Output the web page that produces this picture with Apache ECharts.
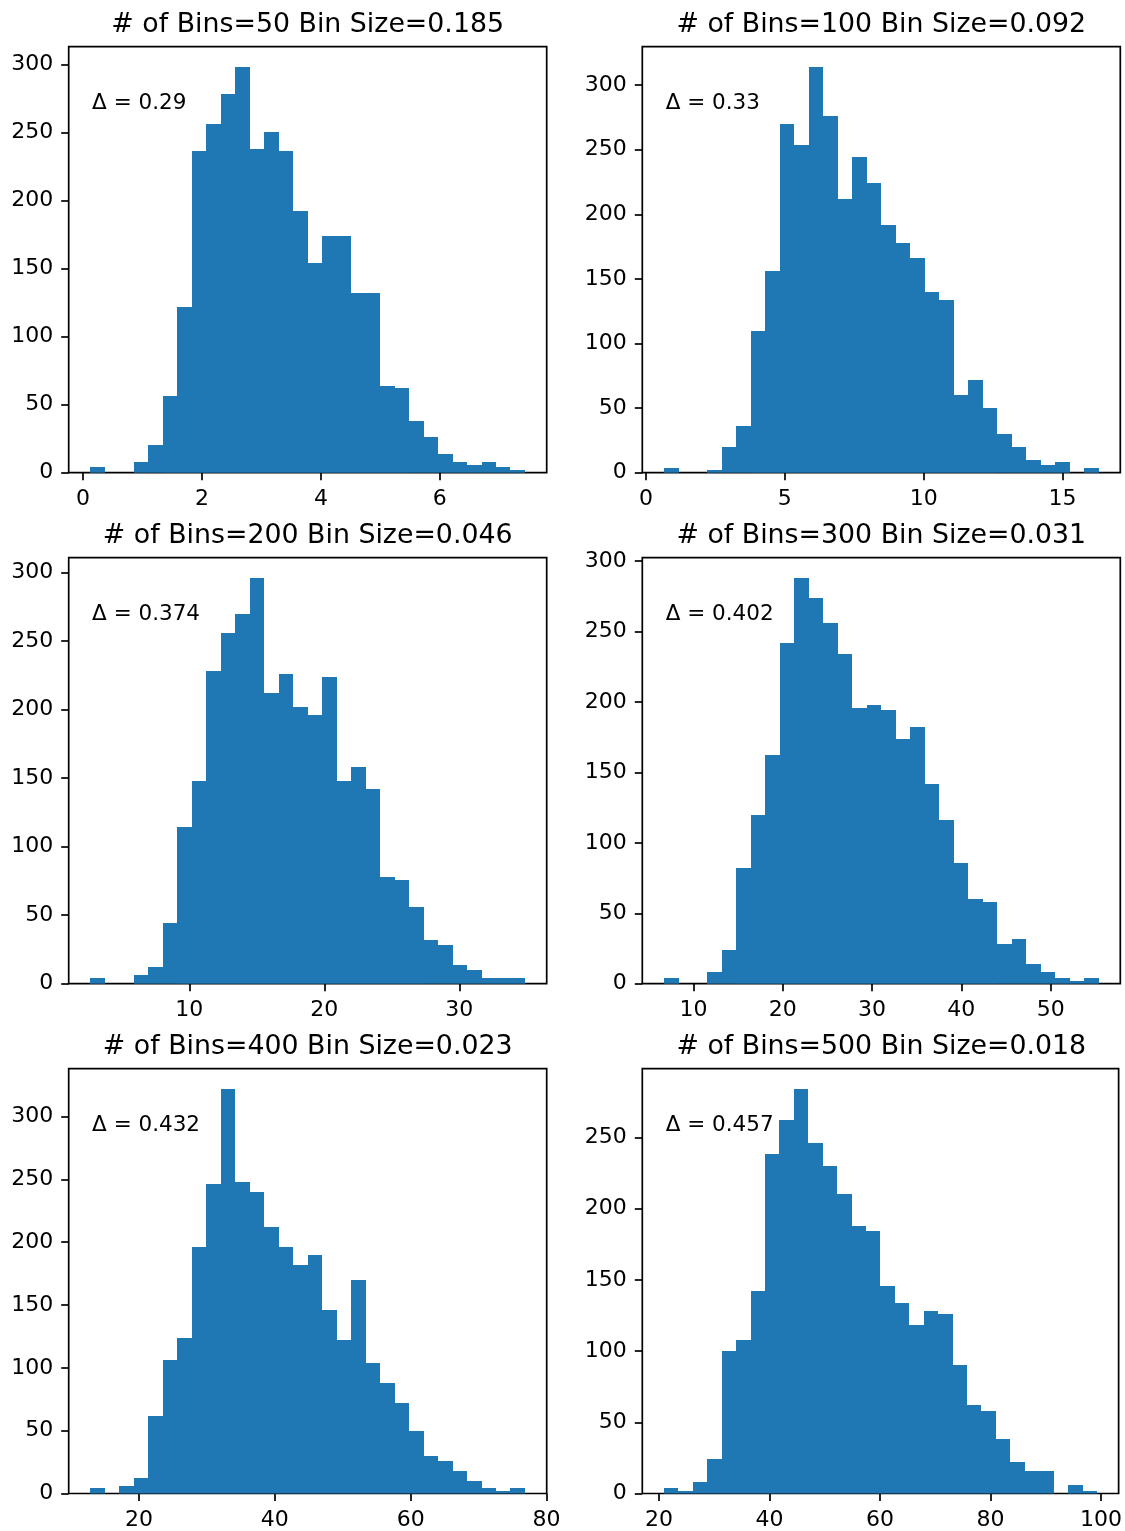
<!DOCTYPE html>
<html>
<head>
<meta charset="utf-8">
<script src="https://cdn.jsdelivr.net/npm/echarts@6/dist/echarts.min.js"></script>
<style>
html,body{margin:0;padding:0;background:#ffffff;}
#chart{width:1125px;height:1531px;}
</style>
</head>
<body>
<div id="chart"></div>
<script>
// ---------- data ----------
const titles = [
  '# of Bins=50 Bin Size=0.185',
  '# of Bins=100 Bin Size=0.092',
  '# of Bins=200 Bin Size=0.046',
  '# of Bins=300 Bin Size=0.031',
  '# of Bins=400 Bin Size=0.023',
  '# of Bins=500 Bin Size=0.018'
];
const deltaLabels = ['Δ = 0.29', 'Δ = 0.33', 'Δ = 0.374', 'Δ = 0.402', 'Δ = 0.432', 'Δ = 0.457'];

// left edge of first bin and bin width (x units) for each panel
const binStart = [0.126, 0.65, 2.68, 6.69, 12.86, 20.91];
const binWidth = [0.2435, 0.5217, 1.0727, 1.6227, 2.132, 2.612];

const counts1 = [4,0,0,8,20,56,122,236,256,278,298,238,250,236,192,154,174,174,132,132,64,62,38,26,14,8,6,8,4,2];
const counts2 = [4,0,0,2,20,36,110,156,270,254,314,276,212,244,224,192,178,166,140,134,60,72,50,30,20,10,6,8,0,4];
const counts3 = [4,0,0,6,12,44,114,148,228,256,270,296,212,226,202,196,224,148,158,142,78,76,56,32,28,14,10,4,4,4];
const counts4 = [4,0,0,8,24,82,120,162,242,288,274,256,234,196,198,194,174,182,142,116,86,60,58,28,32,14,8,4,2,4];
const counts5 = [4,0,6,12,62,106,124,196,246,322,248,240,212,196,182,190,146,122,170,104,88,72,50,30,26,18,10,4,2,4];
const counts6 = [4,2,8,24,100,108,142,238,262,284,246,230,210,188,184,146,134,118,128,126,90,62,58,38,22,16,16,0,6,2];
const allCounts = [counts1, counts2, counts3, counts4, counts5, counts6];

const xTicks1 = [0, 2, 4, 6];
const xTicks2 = [0, 5, 10, 15];
const xTicks3 = [10, 20, 30];
const xTicks4 = [10, 20, 30, 40, 50];
const xTicks5 = [20, 40, 60, 80];
const xTicks6 = [20, 40, 60, 80, 100];
const allXTicks = [xTicks1, xTicks2, xTicks3, xTicks4, xTicks5, xTicks6];

const yTicks1 = [0, 50, 100, 150, 200, 250, 300];
const yTicks2 = [0, 50, 100, 150, 200, 250, 300];
const yTicks3 = [0, 50, 100, 150, 200, 250, 300];
const yTicks4 = [0, 50, 100, 150, 200, 250, 300];
const yTicks5 = [0, 50, 100, 150, 200, 250, 300];
const yTicks6 = [0, 50, 100, 150, 200, 250];
const allYTicks = [yTicks1, yTicks2, yTicks3, yTicks4, yTicks5, yTicks6];

// ---------- layout ----------
const FONT = 'DejaVu Sans';
const BAR = '#1f77b4';
const colLeft = [68.7, 642.3];
const rowTop = [46.7, 557.7, 1068.7];
const GW = 478, GH = 426;
const LW = 1.7, TICK = 7.5;
const TICK_FS = 22, TITLE_FS = 26.8, DELTA_FS = 21.5;

const grids = [], xAxes = [], yAxes = [], series = [], titleOpts = [], graphics = [];

for (let k = 0; k < 6; k++) {
  const col = k % 2, row = Math.floor(k / 2);
  const left = colLeft[col], top = rowTop[row];
  grids.push({left: left, top: top, width: GW, height: GH, show: true,
              borderColor: '#000', borderWidth: LW, backgroundColor: 'transparent', containLabel: false});

  const counts = allCounts[k];
  const lo = binStart[k], hi = binStart[k] + binWidth[k] * counts.length;
  const span = hi - lo;
  const ymax = Math.max.apply(null, counts) * 1.05;

  const tickStyle = {show: true, inside: false, length: TICK, lineStyle: {color: '#000', width: LW}};
  const labelStyle = {show: true, color: '#000', fontFamily: FONT, fontSize: TICK_FS,
                      showMinLabel: true, showMaxLabel: true, hideOverlap: false};

  xAxes.push({
    type: 'value', gridIndex: k, min: lo - 0.05 * span, max: hi + 0.05 * span,
    axisLine: {show: false, onZero: false}, splitLine: {show: false},
    axisTick: Object.assign({}, tickStyle, {customValues: allXTicks[k]}),
    axisLabel: Object.assign({}, labelStyle, {customValues: allXTicks[k], margin: 15.5})
  });
  yAxes.push({
    type: 'value', gridIndex: k, min: 0, max: ymax,
    axisLine: {show: false, onZero: false}, splitLine: {show: false},
    axisTick: Object.assign({}, tickStyle, {customValues: allYTicks[k]}),
    axisLabel: Object.assign({}, labelStyle, {customValues: allYTicks[k], margin: 15.5})
  });

  const data = counts.map(function (c, i) {
    const x0 = binStart[k] + i * binWidth[k];
    return [x0, c, x0 + binWidth[k]];
  });
  series.push({
    type: 'custom', xAxisIndex: k, yAxisIndex: k, data: data, silent: true,
    encode: {x: [0, 2], y: 1},
    renderItem: function (params, api) {
      const v = api.value(1);
      if (v <= 0) return null;
      const p0 = api.coord([api.value(0), v]);
      const p1 = api.coord([api.value(2), 0]);
      const xa = Math.round(p0[0]), xb = Math.round(p1[0]);
      const ya = Math.round(p0[1]), yb = p1[1];
      return {type: 'rect',
        shape: {x: xa, y: ya, width: xb - xa, height: yb - ya},
        style: {fill: BAR}};
    }
  });

  titleOpts.push({
    text: titles[k], left: left + GW / 2, top: top - 34.8, textAlign: 'center', padding: 0,
    textStyle: {fontFamily: FONT, fontSize: TITLE_FS, fontWeight: 'normal', color: '#000'}
  });

  graphics.push({
    type: 'text', left: left + 0.05 * GW - 0.5, top: top + GH - 0.85 * GH - 18.3,
    style: {text: deltaLabels[k], font: DELTA_FS + 'px "DejaVu Sans"', fill: '#000'}
  });
}

const chart = echarts.init(document.getElementById('chart'), null, {renderer: 'canvas', width: 1125, height: 1531});
chart.setOption({
  backgroundColor: '#ffffff',
  animation: false,
  title: titleOpts,
  grid: grids,
  xAxis: xAxes,
  yAxis: yAxes,
  series: series,
  graphic: graphics
});
</script>
</body>
</html>
